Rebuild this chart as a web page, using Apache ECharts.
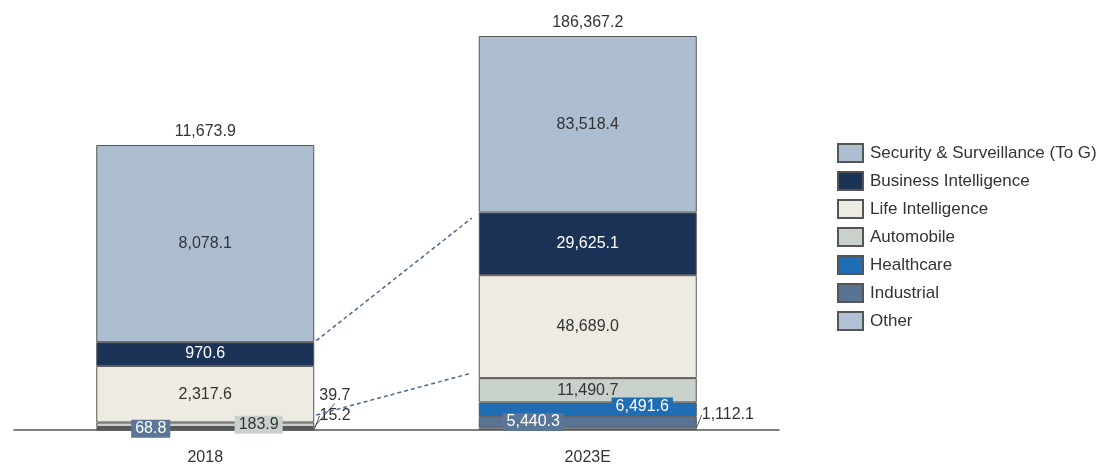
<!DOCTYPE html>
<html>
<head>
<meta charset="utf-8">
<script src="https://cdn.jsdelivr.net/npm/echarts@6/dist/echarts.min.js"></script>
<style>
html,body{margin:0;padding:0;background:#fff;}
#main{width:1105px;height:465px;}
</style>
</head>
<body>
<div id="main"></div>
<script>
// ---- data ----
const categories = ['2018', '2023E'];
const segmentNames = ['Other', 'Industrial', 'Healthcare', 'Automobile', 'Life Intelligence', 'Business Intelligence', 'Security & Surveillance (To G)'];
const values2018 = [15.2, 68.8, 39.7, 183.9, 2317.6, 970.6, 8078.1];
const values2023 = [1112.1, 5440.3, 6491.6, 11490.7, 48689.0, 29625.1, 83518.4];
const legendOrder = ['Security & Surveillance (To G)', 'Business Intelligence', 'Life Intelligence', 'Automobile', 'Healthcare', 'Industrial', 'Other'];

// ---- styles ----
const FONT = 'Liberation Sans, Arial, sans-serif';
const FS = 16;
const colors = {
  'Security & Surveillance (To G)': '#aebed1',
  'Business Intelligence': '#1c3358',
  'Life Intelligence': '#eeebe3',
  'Automobile': '#c9d1cb',
  'Healthcare': '#1f6db5',
  'Industrial': '#587394',
  'Other': '#b1c1d5'
};
const BAR_W = 218;
const SCALE2018 = 394 / 285; // visual scale of the 2018 column
const baseLabel = { show: true, position: 'inside', color: '#333', fontSize: FS, fontFamily: FONT };
// per-year label styling, keyed by segment name
const labelStyles = [
  {
    'Other': { position: 'right', distance: 5, move: [0, -14] },
    'Industrial': { position: ['25%', '50%'], align: 'center', verticalAlign: 'middle', color: '#fff', backgroundColor: '#5b7596', padding: [0, 4], lineHeight: 18 },
    'Healthcare': { position: 'right', distance: 5, move: [0, -32] },
    'Automobile': { position: ['74.5%', '50%'], align: 'center', verticalAlign: 'middle', backgroundColor: '#c9d1cb', padding: [0, 4], lineHeight: 18 },
    'Business Intelligence': { color: '#fff' }
  },
  {
    'Other': { position: 'right', distance: 5, move: [0, -14] },
    'Industrial': { position: ['25%', '50%'], align: 'center', verticalAlign: 'middle', color: '#fff', backgroundColor: '#5b7596', padding: [0, 4], lineHeight: 18 },
    'Healthcare': { position: ['75%', '30%'], align: 'center', verticalAlign: 'middle', color: '#fff', backgroundColor: '#1f6db5', padding: [0, 4], lineHeight: 18 },
    'Business Intelligence': { color: '#fff' }
  }
];

const fmt = v => v.toLocaleString('en-US', { minimumFractionDigits: 1, maximumFractionDigits: 1 });
const yearValues = [values2018, values2023];
const totals = yearValues.map(a => Math.round(a.reduce((s, v) => s + v, 0) * 10) / 10);

const series = [];
yearValues.forEach((vals, yi) => {
  segmentNames.forEach((name, si) => {
    const st = labelStyles[yi][name] || {};
    const lbl = Object.assign({}, baseLabel, st);
    delete lbl.move;
    const item = { value: vals[si], label: lbl };
    if (st.move) item.labelLine = { show: true, lineStyle: { color: '#555', width: 1 } };
    const data = categories.map((c, ci) => ci === yi ? item : '-');
    series.push({
      name: name,
      type: 'bar',
      stack: 'y' + yi,
      yAxisIndex: yi,
      barWidth: BAR_W,
      barGap: '-100%',
      data: data,
      itemStyle: { color: colors[name], borderColor: '#555', borderWidth: 1 },
      label: { formatter: p => fmt(p.value) },
      labelLayout: st.move ? { dx: st.move[0], dy: st.move[1] } : undefined,
      emphasis: { disabled: true },
      animation: false
    });
  });
  // total label on top of column
  series.push({
    name: 'total' + yi,
    type: 'bar',
    stack: 'y' + yi,
    yAxisIndex: yi,
    barWidth: BAR_W,
    barGap: '-100%',
    data: categories.map((c, ci) => ci === yi ? 0 : '-'),
    itemStyle: { color: 'transparent', borderWidth: 0 },
    label: { show: true, position: 'top', distance: 5, color: '#333', fontSize: FS, fontFamily: FONT, formatter: () => fmt(totals[yi]) },
    emphasis: { disabled: true },
    animation: false
  });
});

const chart = echarts.init(document.getElementById('main'), null, { renderer: 'canvas' });
chart.setOption({
  animation: false,
  backgroundColor: '#fff',
  grid: { left: 14, right: 326, top: 36, bottom: 35, containLabel: false, outerBoundsMode: 'none' },
  legend: {
    orient: 'vertical',
    left: 837,
    top: 143,
    padding: 0,
    itemWidth: 25,
    itemHeight: 18,
    itemGap: 8,
    icon: 'rect',
    data: legendOrder,
    textStyle: { color: '#333', fontSize: 17, fontFamily: FONT, lineHeight: 18, padding: [0, 0, 0, 2] },
    selectedMode: false
  },
  xAxis: {
    type: 'category',
    data: categories,
    axisTick: { show: false },
    axisLine: { lineStyle: { color: '#555', width: 1.5 } },
    axisLabel: { color: '#333', fontSize: FS, fontFamily: FONT, margin: 20 }
  },
  yAxis: [
    { type: 'value', show: false, min: 0, max: v => v.max * SCALE2018, splitLine: { show: false } },
    { type: 'value', show: false, min: 0, max: v => v.max, splitLine: { show: false } }
  ],
  series: series
});

// dashed connector lines between the two columns
function cum(vals, n) { let s = 0; for (let i = 0; i < n; i++) s += vals[i]; return s; }
const x0 = chart.convertToPixel({ xAxisIndex: 0 }, categories[0]) + BAR_W / 2;
const x1 = chart.convertToPixel({ xAxisIndex: 0 }, categories[1]) - BAR_W / 2;
const lines = [
  { a: cum(values2018, 6), b: cum(values2023, 6), shift: 0 },
  { a: cum(values2018, 4), b: cum(values2023, 4), shift: -7 }
];
const graphics = lines.map(({ a, b, shift }) => {
  const ya = chart.convertToPixel({ yAxisIndex: 0 }, a) + shift;
  const yb = chart.convertToPixel({ yAxisIndex: 1 }, b) + shift;
  const t0 = 2 / (x1 - x0), t1 = 1 - 7 / (x1 - x0);
  return {
    type: 'line',
    shape: {
      x1: x0 + (x1 - x0) * t0, y1: ya + (yb - ya) * t0,
      x2: x0 + (x1 - x0) * t1, y2: ya + (yb - ya) * t1
    },
    style: { stroke: '#4d6791', lineWidth: 1.5, lineDash: [4, 3] },
    z: 10
  };
});
chart.setOption({ graphic: graphics });
</script>
</body>
</html>
